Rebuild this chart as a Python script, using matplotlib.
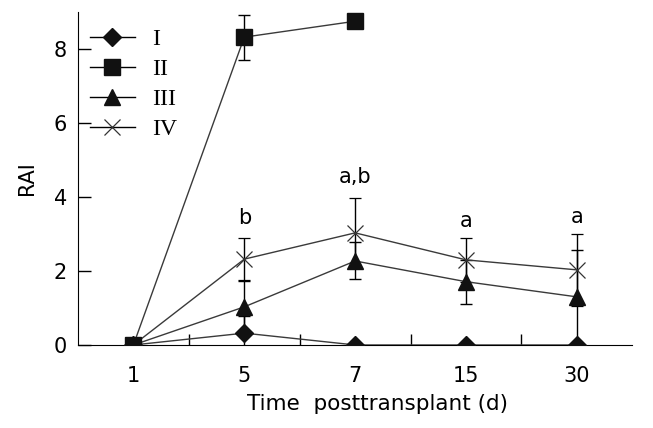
import matplotlib
matplotlib.use("Agg")
import matplotlib.pyplot as plt
from matplotlib.lines import Line2D
import numpy as np

days = ["1", "5", "7", "15", "30"]
g1 = [0, 0.32, 0, 0, 0]
g1_err = [0, 0.46, 0, 0, 0]
g2 = [0, 8.32, 8.75]
g2_err = [0, 0.61, 0]
g3 = [0, 1.03, 2.27, 1.71, 1.3]
g3_err = [0, 0.7, 0.5, 0.6, 1.28]
g4 = [0, 2.32, 3.03, 2.3, 2.03]
g4_err = [0, 0.57, 0.95, 0.6, 0.98]
labels = ["I", "II", "III", "IV"]
sig = ["", "b", "a,b", "a", "a"]
sig_y = [0, 3.44, 4.55, 3.36, 3.47]

fig = plt.figure(figsize=(6.53, 4.28), dpi=100)
ax = fig.add_axes([0.1194, 0.194, 0.849, 0.778])
x = np.arange(len(days))

lc = "#3a3a3a"
ek = dict(ecolor="black", elinewidth=1.0, capsize=4, capthick=1.0)
styles = [
    dict(marker="D", ms=9, mfc="#111", mec="#111"),
    dict(marker="s", ms=11.5, mfc="#111", mec="#111"),
    dict(marker="^", ms=12, mfc="#111", mec="#111"),
    dict(marker="x", ms=12, mfc="none", mec="#333", mew=0.9),
]
ax.errorbar(x, g1, yerr=g1_err, color=lc, lw=1.0, zorder=3, **styles[0], **ek)
ax.errorbar(x, g3, yerr=g3_err, color=lc, lw=1.0, zorder=3, **styles[2], **ek)
ax.errorbar(x, g4, yerr=g4_err, color=lc, lw=1.0, zorder=3, **styles[3], **ek)
ax.errorbar(x[:len(g2)], g2, yerr=g2_err, color=lc, lw=1.0, zorder=4, **styles[1], **ek)

for xi, s, yy in zip(x, sig, sig_y):
    if s:
        ax.text(xi, yy, s, ha="center", va="center", fontsize=15)

ax.set_xlim(-0.5, 4.5)
ax.set_ylim(0, 9)
ax.set_xticks(x)
ax.set_xticklabels(days, fontsize=15)
ax.set_xticks([0.5, 1.5, 2.5, 3.5], minor=True)
ax.tick_params(axis="x", which="major", length=0, pad=15)
ax.tick_params(axis="x", which="minor", direction="in", length=8, width=1)
ax.set_yticks([0, 2, 4, 6, 8])
ax.tick_params(axis="y", direction="in", length=9, width=1, labelsize=15, pad=8)
ax.spines["top"].set_visible(False)
ax.spines["right"].set_visible(False)
ax.set_xlabel("Time  posttransplant (d)", fontsize=15.5)
ax.xaxis.set_label_coords(0.54, -0.148)
ax.set_ylabel("RAI", fontsize=15, labelpad=12)

handles = [Line2D([], [], color="black", lw=1.0, **st) for st in styles]
ax.legend(handles, labels, loc="upper left",
          bbox_to_anchor=(0.0, 0.985), frameon=False,
          prop={"family": "Liberation Serif", "size": 17},
          handlelength=1.9, handletextpad=0.75, labelspacing=0.36,
          borderaxespad=0.1)

fig.savefig("out.png", dpi=100)
